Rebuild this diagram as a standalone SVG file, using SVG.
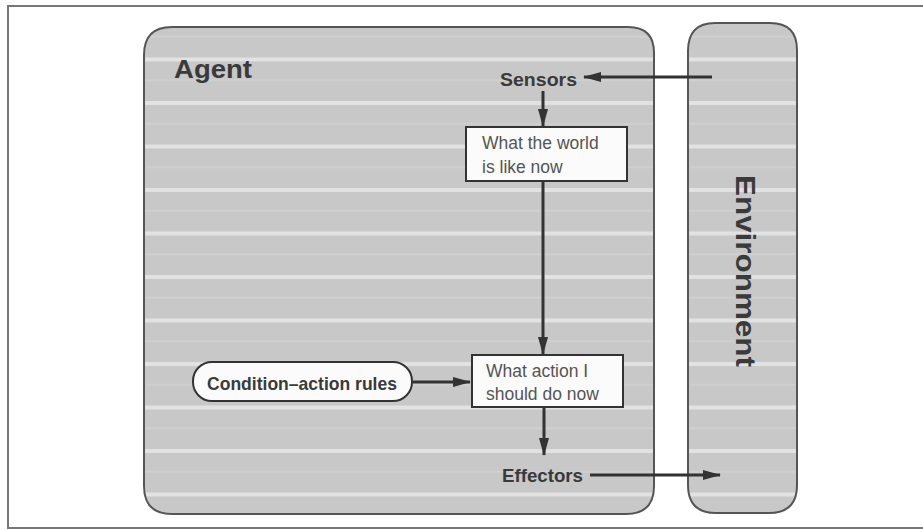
<svg xmlns="http://www.w3.org/2000/svg" width="923" height="530" viewBox="0 0 923 530">
<style>
.panel{fill:url(#stripes);stroke:#555;stroke-width:2}
.box{fill:#fbfbfb;stroke:#333;stroke-width:2}
.lbl{font-family:"Liberation Sans",Arial,sans-serif;font-weight:bold;fill:#3a3a3a}
.boxt{font-family:"Liberation Sans",Arial,sans-serif;font-size:17.5px;fill:#555}
.conn{stroke:#333;stroke-width:3;fill:none;marker-end:url(#ah)}
</style>
<defs>
<pattern id="stripes" patternUnits="userSpaceOnUse" x="0" y="14" width="923" height="43.5">
<rect width="923" height="43.5" fill="#c8c8c8"/>
<rect y="0" width="923" height="4" fill="#e2e2e2"/>
<rect y="22" width="923" height="1.5" fill="#d2d2d2"/>
</pattern>
<marker id="ah" viewBox="0 0 18 10" refX="17" refY="5" markerWidth="18" markerHeight="10" markerUnits="userSpaceOnUse" orient="auto">
<path d="M0,0 L18,5 L0,10 Z" fill="#333"/>
</marker>
</defs>
<rect width="923" height="530" fill="#fff"/>
<path d="M925,6 H8 V528 H925" fill="none" stroke="#777" stroke-width="2"/>
<g id="agent">
<path class="panel" d="M172,27 H628 Q654,27 654,53 V486 Q654,514 626,514 H172 Q144,514 144,486 V55 Q144,27 172,27 Z"/>
<text class="lbl" x="174" y="78" font-size="26" textLength="78" lengthAdjust="spacingAndGlyphs">Agent</text>
</g>
<g id="environment">
<path class="panel" d="M715,23 H770 Q797,23 797,50 V485 Q797,513 769,513 H716 Q688,513 688,485 V51 Q688,23 715,23 Z"/>
<text class="lbl" transform="translate(736,271) rotate(90)" x="0" y="0" font-size="27" text-anchor="middle" textLength="192" lengthAdjust="spacingAndGlyphs">Environment</text>
</g>
<g id="sensors">
<text class="lbl" x="500" y="86" font-size="18" textLength="77" lengthAdjust="spacingAndGlyphs">Sensors</text>
</g>
<g id="world">
<rect class="box" x="466" y="127" width="161" height="54"/>
<text class="boxt" x="482" y="149">What the world</text>
<text class="boxt" x="482" y="173">is like now</text>
</g>
<g id="action">
<rect class="box" x="472" y="355" width="151" height="52"/>
<text class="boxt" x="486" y="377">What action I</text>
<text class="boxt" x="486" y="400">should do now</text>
</g>
<g id="rules">
<rect class="box" x="193" y="362" width="219" height="39" rx="19" ry="19"/>
<text class="lbl" x="302" y="390" font-size="19" text-anchor="middle" textLength="190" lengthAdjust="spacingAndGlyphs">Condition–action rules</text>
</g>
<g id="effectors">
<text class="lbl" x="502" y="482" font-size="19" textLength="81" lengthAdjust="spacingAndGlyphs">Effectors</text>
</g>
<g id="connectors">
<line class="conn" x1="712" y1="77" x2="584" y2="77"/>
<line class="conn" x1="543" y1="91" x2="543" y2="126"/>
<line class="conn" x1="543" y1="181" x2="543" y2="354"/>
<line class="conn" x1="413" y1="382" x2="470" y2="382"/>
<line class="conn" x1="544" y1="407" x2="544" y2="455"/>
<line class="conn" x1="590" y1="475" x2="720" y2="475"/>
</g>
</svg>
